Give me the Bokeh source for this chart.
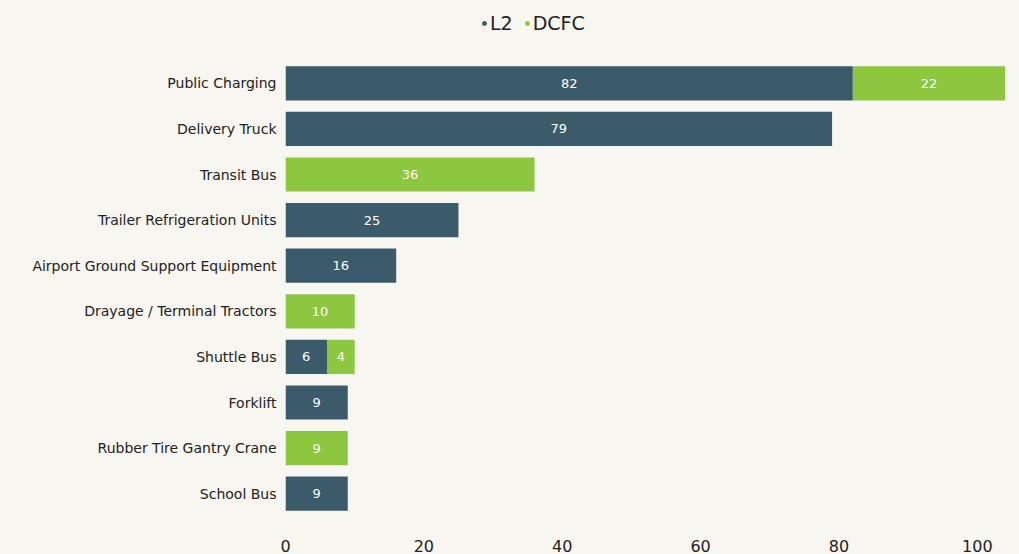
from bokeh.plotting import figure
from bokeh.layouts import column
from bokeh.models import ColumnDataSource, Legend, LegendItem, Range1d
from bokeh.core.properties import value
from bokeh.embed import file_html
from bokeh.resources import INLINE

categories = ["Public Charging", "Delivery Truck", "Transit Bus", "Trailer Refrigeration Units",
              "Airport Ground Support Equipment", "Drayage / Terminal Tractors", "Shuttle Bus",
              "Forklift", "Rubber Tire Gantry Crane", "School Bus"]
l2 = [82, 79, 0, 25, 16, 0, 6, 9, 0, 9]
dcfc = [22, 0, 36, 0, 0, 10, 4, 0, 9, 0]
series = ["L2", "DCFC"]
x_ticks = [0, 20, 40, 60, 80, 100]

BG = "#f8f6f1"
C_L2 = "#3b5a6a"
C_DCFC = "#8dc63f"
colors = [C_L2, C_DCFC]
FONT = "DejaVu Sans"
NAN = float("nan")

# ---- legend strip ----
lg = figure(width=1019, height=44, x_range=Range1d(0, 1), y_range=Range1d(0, 1),
            output_backend="svg", toolbar_location=None,
            background_fill_color=BG, border_fill_color=BG, outline_line_color=None,
            min_border=0)
lg.axis.visible = False
lg.grid.visible = False
items = []
for name, col in zip(series, colors):
    r = lg.scatter(x=[NAN], y=[NAN], marker="circle", size=10, color=col)
    items.append(LegendItem(label=name, renderers=[r]))
leg = Legend(items=items, orientation="horizontal", location=(194, 10),
             background_fill_alpha=0, border_line_color=None,
             label_text_font=FONT, label_text_font_size="19px", label_text_color="#222222",
             glyph_width=10, glyph_height=10, label_standoff=1, spacing=9,
             padding=0, margin=0)
lg.add_layout(leg, "center")

# ---- main chart ----
p = figure(width=1019, height=510, y_range=list(reversed(categories)),
           x_range=Range1d(0, 104.5), output_backend="svg", toolbar_location=None,
           background_fill_color=BG, border_fill_color=BG, outline_line_color=None,
           min_border_left=285, min_border_right=11, min_border_top=16, min_border_bottom=36)

src = ColumnDataSource(dict(cat=categories, L2=l2, DCFC=dcfc))
p.hbar_stack(series, y="cat", height=0.75, source=src, color=colors, line_color=None)

lab_x, lab_y, lab_t = [], [], []
for c, a, b in zip(categories, l2, dcfc):
    if a:
        lab_x.append(a / 2); lab_y.append(c); lab_t.append(str(a))
    if b:
        lab_x.append(a + b / 2); lab_y.append(c); lab_t.append(str(b))
lsrc = ColumnDataSource(dict(x=lab_x, y=lab_y, t=lab_t))
p.text(x="x", y="y", text="t", source=lsrc, text_color="white", text_align="center",
       text_baseline="middle", text_font_size="13px", text_font=value(FONT))

p.xaxis.ticker = x_ticks
p.xaxis.axis_line_color = None
p.xaxis.major_tick_line_color = None
p.xaxis.minor_tick_line_color = None
p.xaxis.major_label_standoff = 17
p.xaxis.major_label_text_font = FONT
p.xaxis.major_label_text_font_size = "16px"
p.xaxis.major_label_text_color = "#222222"

p.yaxis.axis_line_color = None
p.yaxis.major_tick_line_color = None
p.yaxis.minor_tick_line_color = None
p.yaxis.major_label_standoff = 3
p.yaxis.major_label_text_font = FONT
p.yaxis.major_label_text_font_size = "14px"
p.yaxis.major_label_text_color = "#222222"

p.xgrid.grid_line_color = None
p.ygrid.grid_line_color = None
p.y_range.range_padding = 0

layout = column(lg, p, spacing=0, styles={"background-color": BG})
open("out.html", "w").write(file_html(layout, INLINE))
